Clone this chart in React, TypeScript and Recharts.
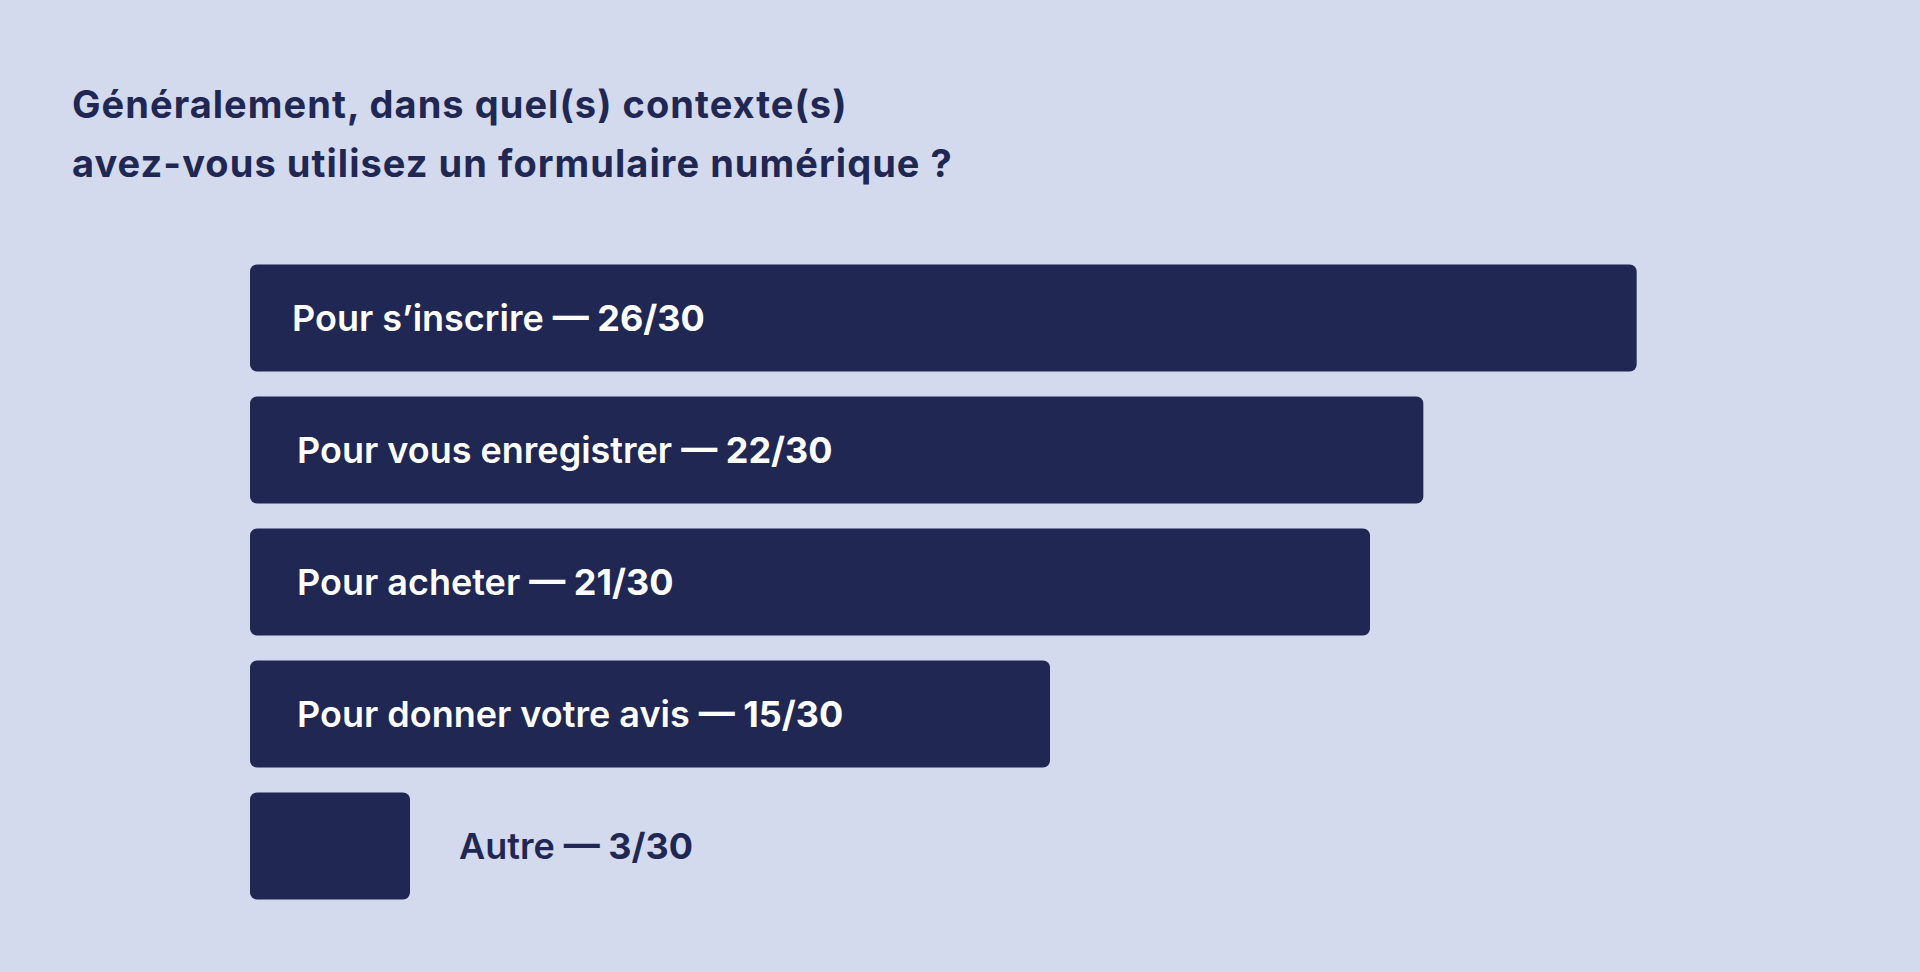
import React from "react";
import { BarChart, Bar, XAxis, YAxis, LabelList } from "recharts";

const TITLE_LINES = [
  "Généralement, dans quel(s) contexte(s)",
  "avez-vous utilisez un formulaire numérique ?",
];
const CATEGORIES = [
  "Pour s’inscrire",
  "Pour vous enregistrer",
  "Pour acheter",
  "Pour donner votre avis",
  "Autre",
];
const COUNTS = [26, 22, 21, 15, 3];
const TOTAL = 30;

const BG = "#D3DAEE";
const NAVY = "#1F2752";

const data = CATEGORIES.map((name, i) => ({ name, value: COUNTS[i] }));

const FS = 36;

const renderLabel = (props: any) => {
  const { x, y, width, height, index } = props;
  const d = data[index];
  const cy = Number(y) + Number(height) / 2;
  const inside = Number(width) > 300;
  const tx = inside ? Number(x) + (index === 0 ? 42 : 47) : Number(x) + Number(width) + 49;
  return (
    <text
      x={tx}
      y={cy + FS * 0.727 / 2}
      fill={inside ? "#FFFFFF" : NAVY}
      fontSize={FS}
      fontFamily="Inter, 'Noto Sans', sans-serif"
      textAnchor="start"
    >
      <tspan fontWeight={600}>{`${d.name} `}</tspan>
      <tspan fontWeight={700}>{`— ${d.value}/${TOTAL}`}</tspan>
    </text>
  );
};

export default function App() {
  return (
    <div
      style={{
        position: "absolute",
        left: 0,
        top: 0,
        width: 1920,
        height: 972,
        background: BG,
        overflow: "hidden",
      }}
    >
      <div
        style={{
          position: "absolute",
          left: 72,
          top: 75,
          fontFamily: "Inter, 'Noto Sans', sans-serif",
          fontWeight: 700,
          fontSize: 38,
          letterSpacing: "1.05px",
          lineHeight: "59px",
          color: NAVY,
          whiteSpace: "nowrap",
        }}
      >
        {TITLE_LINES.map((l) => (
          <div key={l}>{l}</div>
        ))}
      </div>
      <div style={{ position: "absolute", left: 0, top: 0 }}>
        <BarChart
          width={1920}
          height={972}
          data={data}
          layout="vertical"
          margin={{ top: 251.5, bottom: 60.5, left: 250, right: 70 }}
          barSize={107}
        >
          <XAxis type="number" domain={[0, TOTAL]} hide />
          <YAxis type="category" dataKey="name" hide width={0} />
          <Bar dataKey="value" fill={NAVY} radius={7} isAnimationActive={false}>
            <LabelList dataKey="value" content={renderLabel} />
          </Bar>
        </BarChart>
      </div>
    </div>
  );
}
